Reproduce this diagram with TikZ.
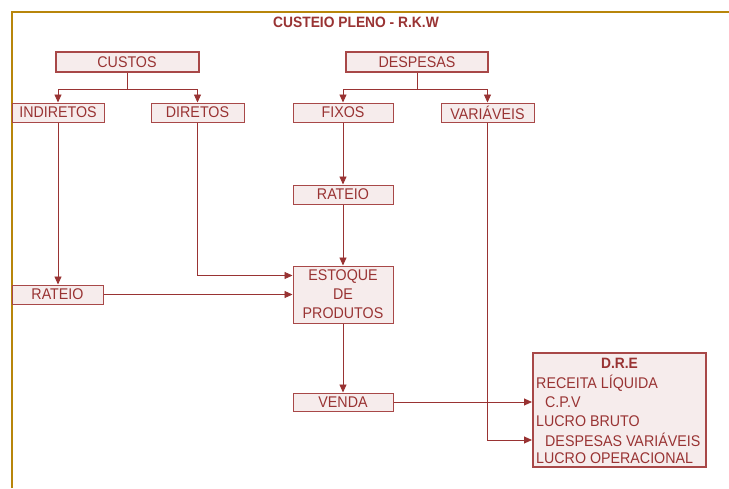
\documentclass[tikz,border=0pt]{standalone}
\usepackage{fontspec}
\setmainfont[FakeStretch=0.92]{Liberation Sans}
\usetikzlibrary{arrows.meta,calc}
\definecolor{dred}{HTML}{993333}
\definecolor{bred}{HTML}{A84848}
\definecolor{pfill}{HTML}{F6ECEC}
\definecolor{gold}{HTML}{B8860B}
\tikzset{
  box/.style={draw=bred, fill=pfill, line width=1pt, inner sep=0pt, text=dred,
    font=\fontsize{15.5}{19}\selectfont, align=center},
  bigbox/.style={box, line width=2pt},
  arr/.style={draw=dred, line width=0.9pt, -{Triangle[length=8pt,width=7pt]}},
  ln/.style={draw=dred, line width=0.9pt},
  dtxt/.style={text=dred, font=\fontsize{15.5}{19}\selectfont, inner sep=0pt, anchor=west},
}
\begin{document}
\begin{tikzpicture}[x=1pt,y=-1pt]
\useasboundingbox (0,0) rectangle (729,488);
\fill[white] (0,0) rectangle (729,488);
\draw[gold, line width=2pt] (12,488) -- (12,12) -- (729,12);
\node[text=dred, font=\bfseries\fontsize{15}{17}\selectfont] (title) at (356,22) {CUSTEIO PLENO - R.K.W};

\node[bigbox, minimum width=143pt, minimum height=20pt] (custos) at (127,62) {CUSTOS};
\node[bigbox, minimum width=142pt, minimum height=20pt] (despesas) at (417,62) {DESPESAS};
\node[box, minimum width=92pt, minimum height=19pt] (indiretos) at (58,112.5) {INDIRETOS};
\node[box, minimum width=93pt, minimum height=19pt] (diretos) at (197.5,112.5) {DIRETOS};
\node[box, minimum width=100pt, minimum height=19pt] (fixos) at (343,112.5) {FIXOS};
\node[box, minimum width=93pt, minimum height=19pt] (variaveis) at (487.5,112.5) {VARIÁVEIS};
\node[box, minimum width=100pt, minimum height=19pt] (rateioB) at (343,194.5) {RATEIO};
\node[box, minimum width=91pt, minimum height=19pt] (rateioA) at (57.5,294.5) {RATEIO};
\node[box, minimum width=100pt, minimum height=57pt] (estoque) at (343,294.5) {ESTOQUE\\DE\\PRODUTOS};
\node[box, minimum width=100pt, minimum height=18pt] (venda) at (343,402) {VENDA};
\node[bigbox, minimum width=173pt, minimum height=114pt] (dre) at (619.5,410) {};

\node[text=dred, font=\bfseries\fontsize{15}{17}\selectfont, inner sep=0pt] (dret) at (619.5,363) {D.R.E};
\node[dtxt] (l1) at (536,383) {RECEITA LÍQUIDA};
\node[dtxt] (l2) at (545,402) {C.P.V};
\node[dtxt] (l3) at (536,421) {LUCRO BRUTO};
\node[dtxt] (l4) at (545,440) {DESPESAS VARIÁVEIS};
\node[dtxt] (l5) at (536,458) {LUCRO OPERACIONAL};

\coordinate (cb) at ($(custos.south)+(0,16)$);
\coordinate (db) at ($(despesas.south)+(0,16)$);
\draw[ln] (custos.south) -- (cb);
\draw[arr] (cb) -| (indiretos.north);
\draw[arr] (cb) -| (diretos.north);
\draw[ln] (despesas.south) -- (db);
\draw[arr] (db) -| (fixos.north);
\draw[arr] (db) -| (variaveis.north);

\draw[arr] (fixos.south) -- (rateioB.north);
\draw[arr] (indiretos.south) -- (indiretos.south |- rateioA.north);
\coordinate (ein) at ($(estoque.north west)+(0,10)$);
\draw[arr] (diretos.south) |- (ein);
\draw[arr] (rateioA.east) -- (rateioA.east -| estoque.west);
\draw[arr] (rateioB.south) -- (estoque.north);
\draw[arr] (estoque.south) -- (venda.north);
\draw[arr] (venda.east) -- (venda.east -| dre.west);
\coordinate (vin) at (dre.west |- l4.west);
\draw[arr] (variaveis.south) |- (vin);
\end{tikzpicture}
\end{document}
